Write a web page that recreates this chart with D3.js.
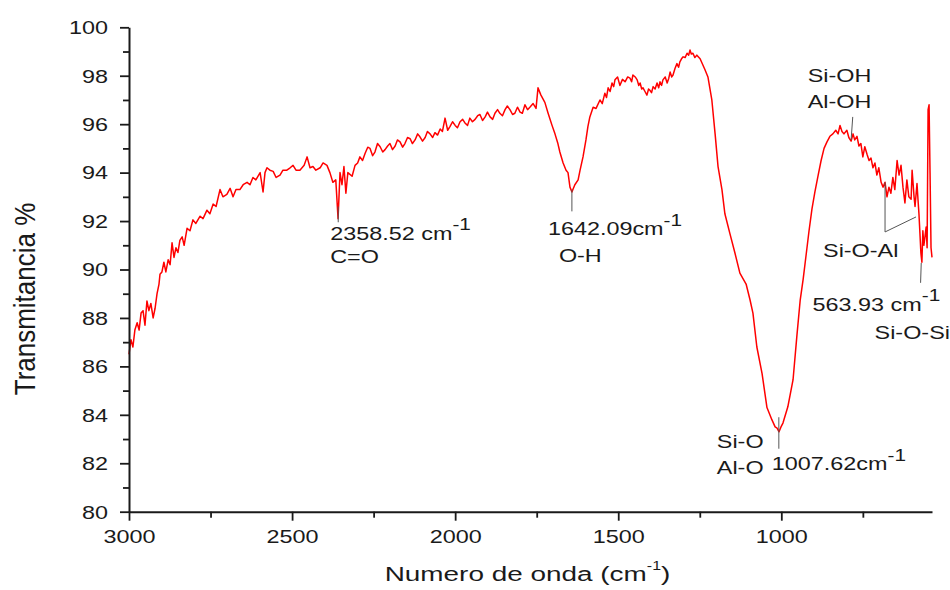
<!DOCTYPE html>
<html><head><meta charset="utf-8">
<script src="https://cdn.jsdelivr.net/npm/d3@7"></script>
<style>
body{margin:0;background:#fff}
svg{display:block}
text{font-family:"Liberation Sans",Arial,sans-serif;fill:#1a1a1a}
</style>
</head><body>
<svg id="chart" width="950" height="590"></svg>
<script>
// ---------- data ----------
const wavenumbers = [
3000,2994,2988,2982,2975,2969,2963,2957,2951,2945,2939,2933,2926,2920,2914,2908,2905,2899,2893,2887,
2880,2874,2868,2862,2856,2850,2844,2837,2831,2822,2813,2804,2795,2782,2773,2761,2752,2742,2733,2721,
2712,2700,2690,2681,2672,2660,2650,2638,2629,2620,2611,2598,2589,2583,2577,2568,2558,2549,2537,2528,
2516,2506,2497,2488,2476,2463,2454,2445,2436,2427,2414,2405,2393,2384,2375,2366,2359,2353,2347,2341,
2335,2329,2316,2307,2299,2292,2284,2276,2268,2261,2253,2246,2238,2230,2222,2215,2207,2200,2192,2184,
2177,2169,2161,2154,2146,2138,2131,2123,2115,2108,2100,2092,2085,2077,2069,2062,2054,2046,2039,2031,
2023,2016,2008,2000,1993,1985,1977,1970,1962,1955,1947,1939,1931,1924,1916,1908,1901,1893,1885,1878,
1870,1863,1855,1847,1840,1832,1824,1817,1809,1801,1794,1786,1778,1771,1761,1752,1746,1737,1725,1715,
1703,1694,1685,1679,1669,1660,1654,1648,1642,1639,1633,1623,1617,1608,1599,1593,1587,1577,1568,
1556,1549,1541,1536,1531,1525,1519,1514,1510,1502,1495,1487,1479,1471,1464,1459,1455,1448,1442,1437,
1433,1428,1424,1418,1412,1407,1403,1398,1393,1387,1381,1376,1372,1367,1363,1356,1350,1345,1341,1336,
1332,1326,1320,1315,1311,1306,1301,1295,1289,1284,1280,1276,1271,1265,1259,
1249,1234,1225,1213,1203,1194,1182,1173,1158,1142,1127,1108,1096,
1087,1075,1059,1044,1029,1019,1013,1007,1001,995,980,964,952,942,933,924,915,906,897,887,
878,869,860,851,842,833,826,820,814,808,799,793,786,780,775,768,762,756,750,744,
737,731,725,719,713,707,701,694,688,682,676,670,664,658,652,645,639,633,627,621,
615,609,602,599,593,590,584,581,578,575,572,569,566,563,560,556,553,550,547,544,
541,538
];
const transmittance = [
86.5,87.1,86.8,87.5,87.8,87.5,88.2,88.3,87.7,88.7,88.3,88.6,88.0,88.4,89.0,89.4,89.8,89.9,90.3,89.9,
90.4,90.2,91.1,90.5,90.9,90.7,91.2,91.35,91.0,91.7,91.6,92.05,91.9,92.2,92.1,92.45,92.3,92.7,92.6,93.3,
93.0,93.1,93.35,93.0,93.3,93.3,93.5,93.6,93.5,93.8,93.7,94.0,93.2,94.0,94.2,94.1,94.05,93.8,93.9,94.1,
94.1,94.2,94.3,94.1,94.1,94.3,94.65,94.2,94.25,94.1,94.2,94.4,94.3,94.0,93.6,93.7,92.1,94.0,93.5,94.25,
93.15,94.0,93.85,94.3,94.4,94.65,94.5,94.8,95.05,95.0,94.7,94.85,95.2,95.07,94.85,94.95,95.1,95.2,94.95,95.1,
95.35,95.27,95.05,95.2,95.45,95.4,95.2,95.35,95.6,95.48,95.3,95.45,95.7,95.6,95.45,95.65,95.55,95.8,95.7,96.25,
95.75,95.9,96.1,95.95,95.85,96.1,96.2,96.05,95.95,96.25,96.1,96.2,96.35,96.4,96.15,96.3,96.5,96.3,96.2,96.45,
96.6,96.45,96.35,96.6,96.75,96.6,96.4,96.45,96.7,96.5,96.45,96.8,96.6,96.7,96.85,96.65,97.5,97.2,96.9,96.45,
95.95,95.6,95.2,94.85,94.4,94.1,94.0,93.4,93.2,93.3,93.5,93.7,94.1,94.65,95.35,95.9,96.3,96.7,96.65,
97.0,96.85,97.28,97.1,97.5,97.35,97.7,97.55,97.83,97.95,97.6,97.85,97.75,97.95,97.9,97.75,98.03,97.95,97.83,97.6,
97.7,97.45,97.5,97.35,97.2,97.45,97.4,97.3,97.55,97.45,97.7,97.5,97.75,97.6,97.83,97.95,97.7,97.9,98.15,97.95,
98.03,98.3,98.5,98.35,98.57,98.7,98.78,98.75,98.93,98.85,99.06,98.9,98.93,98.75,98.85,
98.7,98.25,97.95,97.0,95.6,94.25,93.3,92.3,91.5,90.67,89.85,89.4,88.75,
88.2,86.8,85.7,84.3,83.8,83.5,83.45,83.3,83.5,83.66,84.33,85.45,87.3,88.75,89.6,90.6,91.6,92.5,93.2,93.9,
94.5,95.0,95.27,95.5,95.6,95.75,95.6,95.95,95.7,95.6,95.75,95.45,95.3,95.6,95.35,95.5,95.1,95.2,94.65,95.07,
94.75,94.5,94.6,94.2,94.4,93.9,94.2,93.6,93.4,93.6,93.0,93.4,93.15,93.8,93.3,94.5,93.9,94.3,93.4,92.75,
93.7,93.0,92.9,94.1,93.0,92.6,93.55,92.9,92.3,91.5,90.67,90.3,91.6,91.0,91.3,91.75,90.9,96.6,96.8,94.0,
90.9,90.5
];
const xDomain = [3000, 538];
const yDomain = [80, 100];
const xTickValues = [3000, 2500, 2000, 1500, 1000];
const xMinorTickValues = [2750, 2250, 1750, 1250, 750];
const yTickValues = [80, 82, 84, 86, 88, 90, 92, 94, 96, 98, 100];
const yMinorTickValues = [81, 83, 85, 87, 89, 91, 93, 95, 97, 99];
const xTitleMain = "Numero de onda (cm";
const xTitleSup = "-1";
const xTitleEnd = ")";
const yTitle = "Transmitancia %";
const peakWavenumbers = [2358.52, 1642.09, 1007.62, 563.93];
const peakNumberLabels = ["2358.52 cm", "1642.09cm", "1007.62cm", "563.93 cm"];
const bondLabels = ["C=O", "O-H", "Si-O", "Al-O", "Si-OH", "Al-OH", "Si-O-Al", "Si-O-Si"];
const unitSup = "-1";

// ---------- drawing ----------
const svg = d3.select("#chart");
const x = d3.scaleLinear().domain(xDomain).range([129, 932]);
const y = d3.scaleLinear().domain(yDomain).range([511.7, 27.3]);
const SX = 1.3; // horizontal glyph stretch seen in the reference

// spectrum
const pts = wavenumbers.map((w, i) => [w, transmittance[i]]);
svg.append("path")
  .datum(pts)
  .attr("fill", "none")
  .attr("stroke", "#ff0000")
  .attr("stroke-width", 1.5)
  .attr("stroke-linejoin", "round")
  .attr("d", d3.line().x(d => x(d[0])).y(d => y(d[1])));

// axes
const xAxis = svg.append("g").attr("transform", `translate(0,${y(80)})`)
  .call(d3.axisBottom(x).tickValues(xTickValues).tickSize(9).tickSizeOuter(0).tickFormat(d3.format("d")));
const xMinor = svg.append("g").attr("transform", `translate(0,${y(80)})`)
  .call(d3.axisBottom(x).tickValues(xMinorTickValues).tickSize(6).tickSizeOuter(0).tickFormat(""));
xMinor.select(".domain").remove();
const yAxis = svg.append("g").attr("transform", `translate(${x(3000)},0)`)
  .call(d3.axisLeft(y).tickValues(yTickValues).tickSize(9).tickSizeOuter(0).tickFormat(d3.format("d")));
const yMinor = svg.append("g").attr("transform", `translate(${x(3000)},0)`)
  .call(d3.axisLeft(y).tickValues(yMinorTickValues).tickSize(6).tickSizeOuter(0).tickFormat(""));
yMinor.select(".domain").remove();

svg.selectAll(".domain").attr("stroke", "#1a1a1a").attr("stroke-width", 2);
svg.selectAll(".tick line").attr("stroke", "#1a1a1a").attr("stroke-width", 1.8);

xAxis.selectAll(".tick text")
  .attr("y", null).attr("dy", null)
  .attr("font-size", 18).attr("font-family", null)
  .attr("transform", `translate(0,31) scale(${SX},1)`);
yAxis.selectAll(".tick text")
  .attr("x", null).attr("dy", "0.35em")
  .attr("font-size", 18).attr("font-family", null)
  .attr("text-anchor", "end")
  .attr("transform", `translate(-21,0) scale(${SX},1)`);

// axis titles
const xt = svg.append("text")
  .attr("text-anchor", "middle")
  .attr("font-size", 21)
  .attr("transform", `translate(${(x(3000) + x(538)) / 2 - 3},581) scale(1.33,1)`);
xt.append("tspan").text(xTitleMain);
xt.append("tspan").attr("font-size", 12).attr("dy", -11).text(xTitleSup);
xt.append("tspan").attr("dy", 11).text(xTitleEnd);

svg.append("text")
  .attr("text-anchor", "middle")
  .attr("font-size", 26)
  .attr("transform", `translate(35,299) scale(1.15,1) rotate(-90)`)
  .text(yTitle);

// annotations
const ann = svg.append("g");
function leader(points) {
  ann.append("path")
    .attr("d", d3.line().x(d => x(d[0])).y(d => y(d[1]))(points))
    .attr("fill", "none").attr("stroke", "#555").attr("stroke-width", 1);
}
function label(px, py, main, sup, supDy) {
  const t = ann.append("text")
    .attr("font-size", 18)
    .attr("transform", `translate(${px},${py}) scale(${SX},1)`);
  t.append("tspan").text(main);
  if (sup) t.append("tspan").attr("font-size", 16).attr("dy", supDy).text(sup);
}

// C=O
leader([[peakWavenumbers[0], 92.6], [peakWavenumbers[0], 91.95]]);
{
  const bx = x(peakWavenumbers[0]), by = y(91.95);
  label(bx - 8, by + 18, peakNumberLabels[0], unitSup, -10);
  label(bx - 8, by + 41, bondLabels[0]);
}
// O-H
leader([[peakWavenumbers[1], 93.3], [peakWavenumbers[1], 92.4]]);
{
  const bx = x(peakWavenumbers[1]), by = y(92.4);
  label(bx - 24, by + 24, peakNumberLabels[1], unitSup, -9);
  label(bx - 13, by + 51, bondLabels[1]);
}
// Si-O / Al-O
leader([[peakWavenumbers[2], 83.9], [peakWavenumbers[2], 82.6]]);
{
  const bx = x(peakWavenumbers[2]), by = y(82.6);
  label(bx - 62, by - 1, bondLabels[2]);
  label(bx - 62, by + 25, bondLabels[3]);
  label(bx - 7, by + 21, peakNumberLabels[2], unitSup, -9);
}
// Si-OH / Al-OH
leader([[781, 96.3], [786, 95.35]]);
{
  const bx = x(781), by = y(96.3);
  label(bx - 45, by - 35, bondLabels[4]);
  label(bx - 45, by - 9, bondLabels[5]);
}
// Si-O-Al
leader([[682, 93.6], [682, 91.55], [587, 92.17]]);
{
  const bx = x(682), by = y(91.55);
  label(bx - 62, by + 25, bondLabels[6]);
}
// 563.93 / Si-O-Si
leader([[571, 90.27], [573, 89.45]]);
{
  const bx = x(573), by = y(89.45);
  label(bx - 108, by + 28, peakNumberLabels[3], unitSup, -10);
  label(bx - 46, by + 56, bondLabels[7]);
}
</script>
</body></html>
